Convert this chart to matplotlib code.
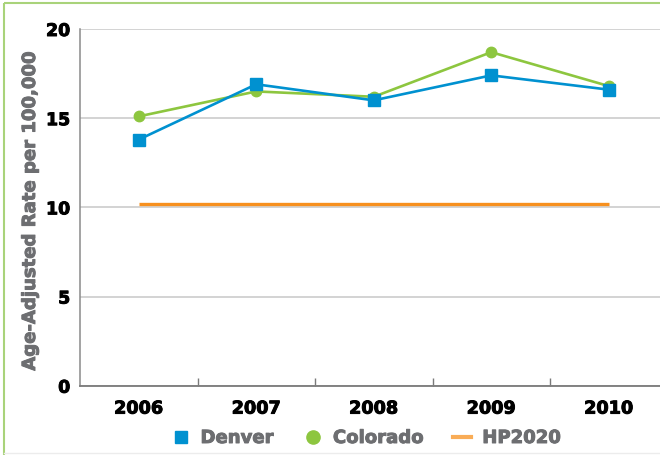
import matplotlib
matplotlib.use("Agg")
import matplotlib.pyplot as plt
import matplotlib.patheffects as pe
from matplotlib.lines import Line2D

years = ["2006", "2007", "2008", "2009", "2010"]
denver = [13.8, 16.9, 16.0, 17.4, 16.6]
colorado = [15.1, 16.5, 16.2, 18.7, 16.8]
hp2020 = [10.2, 10.2, 10.2, 10.2, 10.2]
y_ticks = [0, 5, 10, 15, 20]

BLUE = "#0091d0"
GREEN = "#8dc63f"
ORANGE = "#f7901e"
GREY_TXT = "#6d6e71"

plt.rcParams["font.family"] = ["DejaVu Sans"]
plt.rcParams["font.weight"] = "bold"
plt.rcParams["savefig.bbox"] = "standard"

W, H = 660, 456
fig = plt.figure(figsize=(W / 100, H / 100), dpi=100)

# frame drawn in a background axes covering the whole figure (pixel coords)
bg = fig.add_axes([0, 0, 1, 1], zorder=-1)
bg.set_xlim(0, W)
bg.set_ylim(H, 0)
bg.axis("off")
bg.plot([3.5, W + 5], [3.5, 3.5], color="#a9d37a", lw=1.5, solid_capstyle="butt")
bg.plot([3.5, 3.5], [3.5, H + 5], color="#a9d37a", lw=1.5, solid_capstyle="butt")
bg.plot([3.5, W + 5], [454, 454], color="#ececec", lw=1.0)

# plot area runs off the right edge; last category band is cut at the figure edge
band = 117.5
ax = fig.add_axes([80 / W, 1 - 386.7 / H, (W - 80) / W, 356.7 / H])

x = list(range(len(years)))
ax.plot(x, hp2020, color=ORANGE, lw=2.4, solid_capstyle="butt", zorder=3)
ax.plot(x, colorado, color=GREEN, lw=1.9, marker="o", ms=7.5, zorder=4)
ax.plot(x, denver, color=BLUE, lw=1.9, marker="s", ms=8, zorder=5)

ax.set_xlim(-0.5, -0.5 + (W - 80) / band)
ax.set_ylim(0, 20)
ax.set_yticks(y_ticks)
ax.set_yticklabels([str(v) for v in y_ticks])
ax.set_xticks(x)
ax.set_xticklabels(years)
ax.set_xticks([0.5, 1.5, 2.5, 3.5], minor=True)
ax.patch.set_visible(False)

ax.grid(axis="y", color="#c8c8c8", lw=1.1, zorder=0)
ax.set_axisbelow(True)
for s in ("top", "right"):
    ax.spines[s].set_visible(False)
ax.spines["left"].set_color("#8a8a8a")
ax.spines["bottom"].set_color("#7a7a7a")
ax.spines["left"].set_linewidth(1.1)
ax.spines["bottom"].set_linewidth(1.3)

ax.tick_params(axis="y", length=0, pad=7, labelsize=12.5, labelcolor="black")
ax.tick_params(axis="x", which="major", length=0, pad=10, labelsize=12.7, labelcolor="black")
ax.tick_params(axis="x", which="minor", direction="in", length=6, width=1, color="#7a7a7a")

# thicken the bold glyphs a little
for lab in ax.get_xticklabels() + ax.get_yticklabels():
    lab.set_path_effects([pe.withStroke(linewidth=0.7, foreground="black")])

ylab = fig.text(30 / W, 1 - 213 / H, "Age-Adjusted Rate per 100,000", rotation=90,
                ha="center", va="center", color=GREY_TXT, fontsize=13, fontweight="bold")
ylab.set_path_effects([pe.withStroke(linewidth=0.7, foreground=GREY_TXT)])

handles = [
    Line2D([], [], color=BLUE, marker="s", ls="none", ms=9),
    Line2D([], [], color=GREEN, marker="o", ls="none", ms=9.5),
    Line2D([], [], color=ORANGE, lw=3, alpha=0.75),
]
leg = fig.legend(handles, ["Denver", "Colorado", "HP2020"], ncol=3, loc="center",
                 bbox_to_anchor=(366 / W, 1 - 439 / H), frameon=False,
                 fontsize=13, labelcolor=GREY_TXT, handlelength=1.0,
                 handletextpad=0.6, columnspacing=1.7)
for t in leg.get_texts():
    t.set_path_effects([pe.withStroke(linewidth=0.7, foreground=GREY_TXT)])

fig.savefig("out.png", dpi=100)
